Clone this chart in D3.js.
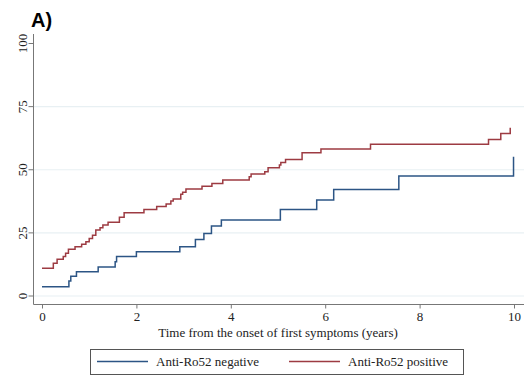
<!DOCTYPE html>
<html>
<head>
<meta charset="utf-8">
<script src="https://cdn.jsdelivr.net/npm/d3@7"></script>
<style>
  html, body { margin: 0; padding: 0; background: #fff; }
  svg { display: block; }
</style>
</head>
<body>
<div id="chart"></div>
<script>
// Kaplan-Meier style cumulative curves
const negTimes  = [0, 0.57, 0.61, 0.73, 1.19, 1.55, 1.58, 2.00, 2.92, 3.25, 3.43, 3.59, 3.80, 5.05, 5.82, 6.18, 7.56, 9.99];
const negValues = [3.7, 5.9, 7.8, 9.6, 11.5, 13.6, 15.6, 17.5, 19.5, 22.4, 24.8, 27.7, 30.1, 34.3, 38.0, 42.2, 47.5, 55.1];

const posTimes  = [0, 0.24, 0.32, 0.45, 0.50, 0.56, 0.70, 0.84, 0.93, 1.00, 1.07, 1.14, 1.23, 1.29, 1.40, 1.64, 1.74,
                   2.16, 2.43, 2.63, 2.73, 2.78, 2.94, 2.98, 3.05, 3.39, 3.60, 3.83, 4.39, 4.43, 4.72, 4.79,
                   5.03, 5.06, 5.16, 5.51, 5.91, 6.96, 9.46, 9.72, 9.92];
const posValues = [11.0, 13.0, 14.6, 15.6, 16.9, 18.5, 19.5, 20.5, 21.5, 22.8, 24.1, 26.1, 27.0, 28.1, 29.2, 31.2, 33.0,
                   34.3, 35.4, 36.4, 37.6, 38.4, 40.3, 41.1, 42.4, 43.5, 44.6, 45.9, 47.2, 48.3, 49.2, 50.8,
                   51.9, 52.9, 54.1, 56.7, 58.2, 60.1, 62.0, 64.4, 66.6];

const seriesNames = ["Anti-Ro52 negative", "Anti-Ro52 positive"];
const seriesColors = ["#2c5585", "#9d3b42"];
const xTicks = [0, 2, 4, 6, 8, 10];
const yTicks = [0, 25, 50, 75, 100];
const xTitle = "Time from the onset of first symptoms (years)";

const W = 524, H = 379;
const serif = "'Liberation Serif', 'Times New Roman', serif";

const svg = d3.select("#chart").append("svg")
  .attr("width", W).attr("height", H);

const x = d3.scaleLinear().domain([0, 10]).range([42, 514]);
const y = d3.scaleLinear().domain([0, 100]).range([296, 43.5]);

const axisX = 33.5, axisY = 304.5;

// Gridlines
svg.append("g")
  .selectAll("line")
  .data(yTicks.filter(d => d < 100))
  .enter().append("line")
  .attr("x1", axisX).attr("x2", W)
  .attr("y1", d => y(d)).attr("y2", d => y(d))
  .attr("stroke", "#e8f0f3").attr("stroke-width", 1.2);

// Y axis
const gy = svg.append("g")
  .attr("transform", `translate(${axisX},0)`)
  .call(d3.axisLeft(y).tickValues(yTicks).tickSize(5).tickPadding(6));
gy.select(".domain").attr("d", `M0,34V${axisY}`).attr("stroke", "#777");
gy.selectAll(".tick line").attr("stroke", "#777");
gy.selectAll(".tick text")
  .attr("font-family", serif).attr("font-size", 13).attr("fill", "#222")
  .attr("text-anchor", "middle")
  .attr("x", 0).attr("dy", 0)
  .attr("transform", d => `translate(-7,${y(d)}) rotate(-90)`)
  .attr("y", 0);
// place text relative to rotated frame
gy.selectAll(".tick").attr("transform", null);
gy.selectAll(".tick line").attr("y1", d => y(d)).attr("y2", d => y(d)).attr("x2", -5);

// X axis
const gx = svg.append("g")
  .attr("transform", `translate(0,${axisY})`)
  .call(d3.axisBottom(x).tickValues(xTicks).tickSize(4).tickPadding(3));
gx.select(".domain").attr("d", `M${axisX},0H${W}`).attr("stroke", "#777");
gx.selectAll(".tick line").attr("stroke", "#777");
gx.selectAll(".tick text")
  .attr("font-family", serif).attr("font-size", 13).attr("fill", "#222");

// X title
svg.append("text")
  .attr("x", 278).attr("y", 337)
  .attr("text-anchor", "middle")
  .attr("font-family", serif).attr("font-size", 13).attr("fill", "#222")
  .text(xTitle);

// Curves
const line = d3.line()
  .x(d => x(d[0])).y(d => y(d[1]))
  .curve(d3.curveStepAfter);

const series = [
  d3.zip(negTimes, negValues),
  d3.zip(posTimes, posValues)
];

svg.append("g").selectAll("path")
  .data(series)
  .enter().append("path")
  .attr("d", line)
  .attr("fill", "none")
  .attr("stroke", (d, i) => seriesColors[i])
  .attr("stroke-width", 1.5);

// Legend
const legend = svg.append("g");
legend.append("rect")
  .attr("x", 90.5).attr("y", 349.5).attr("width", 373).attr("height", 25)
  .attr("fill", "#fff").attr("stroke", "#555").attr("stroke-width", 1);
const legX = [97, 289];
seriesNames.forEach((name, i) => {
  legend.append("line")
    .attr("x1", legX[i]).attr("x2", legX[i] + 51)
    .attr("y1", 361.5).attr("y2", 361.5)
    .attr("stroke", seriesColors[i]).attr("stroke-width", 1.5);
  legend.append("text")
    .attr("x", legX[i] + 59).attr("y", 366)
    .attr("font-family", serif).attr("font-size", 13).attr("fill", "#222")
    .text(name);
});

// Panel label
svg.append("text")
  .attr("x", 31).attr("y", 27)
  .attr("font-family", "'Liberation Sans', Arial, sans-serif")
  .attr("font-weight", "bold").attr("font-size", 20).attr("fill", "#000")
  .text("A)");
</script>
</body>
</html>
